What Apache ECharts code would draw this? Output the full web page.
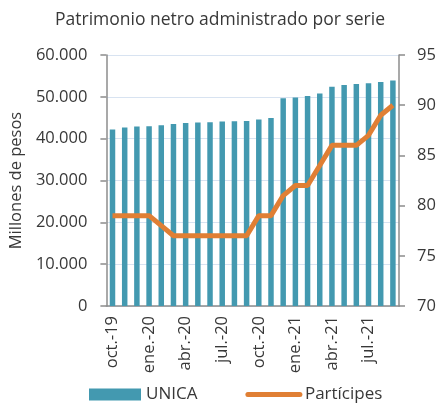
<!DOCTYPE html>
<html>
<head>
<meta charset="utf-8">
<script src="https://cdn.jsdelivr.net/npm/echarts@6/dist/echarts.min.js"></script>
<style>
  html, body { margin: 0; padding: 0; background: #fff; }
  #chart { width: 440px; height: 409px; }
</style>
</head>
<body>
<div id="chart"></div>
<script>
// meses oct-19 .. sep-21
var months = ['oct.-19', 'nov.-19', 'dic.-19', 'ene.-20', 'feb.-20', 'mar.-20', 'abr.-20', 'may.-20', 'jun.-20',
  'jul.-20', 'ago.-20', 'sep.-20', 'oct.-20', 'nov.-20', 'dic.-20', 'ene.-21', 'feb.-21', 'mar.-21',
  'abr.-21', 'may.-21', 'jun.-21', 'jul.-21', 'ago.-21', 'sep.-21'];
// patrimonio serie UNICA (millones de pesos)
var unica = [42200, 42650, 42900, 42970, 43200, 43530, 43770, 43850, 43930, 44090, 44170, 44200,
  44560, 44960, 49650, 49820, 50220, 50770, 52440, 52840, 53080, 53240, 53560, 53880];
// numero de participes
var participes = [79, 79, 79, 79, 78, 77, 77, 77, 77, 77, 77, 77,
  79, 79, 81, 82, 82, 84, 86, 86, 86, 87, 89, 90];

var font = 'Open Sans';
var txt = '#383838';
var axisGray = '#8c8c8c';
var fs = 16.5;

var chart = echarts.init(document.getElementById('chart'));
var option = {
  animation: false,
  textStyle: { fontFamily: font },
  title: {
    text: 'Patrimonio netro administrado por serie',
    left: 'center',
    top: 6,
    textStyle: { fontFamily: font, fontSize: 17.5, fontWeight: 'normal', color: txt }
  },
  legend: {
    bottom: 1,
    left: 84,
    itemGap: 48,
    itemWidth: 52,
    itemHeight: 12,
    textStyle: { fontFamily: font, fontSize: 17, color: txt },
    data: [
      { name: 'UNICA', icon: 'rect' },
      { name: 'Partícipes', itemStyle: { opacity: 0 }, lineStyle: { width: 5, cap: 'round' } }
    ]
  },
  grid: { left: 106, right: 41, top: 55, bottom: 103 },
  xAxis: {
    type: 'category',
    data: months,
    boundaryGap: true,
    axisLine: { lineStyle: { color: axisGray, width: 1.5 } },
    axisTick: { interval: 2, length: 6, lineStyle: { color: axisGray, width: 1.5 } },
    axisLabel: { interval: 2, rotate: 90, fontSize: fs, color: txt, fontFamily: font, margin: 10 }
  },
  yAxis: [
    {
      type: 'value',
      min: 0, max: 60000, interval: 10000,
      name: 'Millones de pesos',
      nameLocation: 'middle',
      nameGap: 78,
      nameTextStyle: { fontSize: fs, color: txt, fontFamily: font },
      axisLine: { show: true, lineStyle: { color: axisGray, width: 1.5 } },
      axisTick: { show: true, length: 6, lineStyle: { color: axisGray, width: 1.5 } },
      splitLine: { lineStyle: { color: '#d8e3f1', width: 1 } },
      axisLabel: {
        fontSize: fs, color: txt, fontFamily: font, margin: 19,
        formatter: function (v) { return v === 0 ? '0' : (v / 1000) + '.000'; }
      }
    },
    {
      type: 'value',
      min: 70, max: 95, interval: 5,
      position: 'right',
      axisLine: { show: true, lineStyle: { color: axisGray, width: 1.5 } },
      axisTick: { show: true, length: 6, lineStyle: { color: axisGray, width: 1.5 } },
      splitLine: { show: false },
      axisLabel: { fontSize: fs, color: txt, fontFamily: font, margin: 18 }
    }
  ],
  series: [
    {
      name: 'UNICA',
      type: 'bar',
      data: unica,
      barWidth: '45%',
      itemStyle: { color: '#4399b0' }
    },
    {
      name: 'Partícipes',
      type: 'line',
      yAxisIndex: 1,
      data: participes,
      symbol: 'none',
      lineStyle: { color: '#e07f34', width: 5 },
      itemStyle: { color: '#e07f34' }
    }
  ]
};
chart.setOption(option);
</script>
</body>
</html>
